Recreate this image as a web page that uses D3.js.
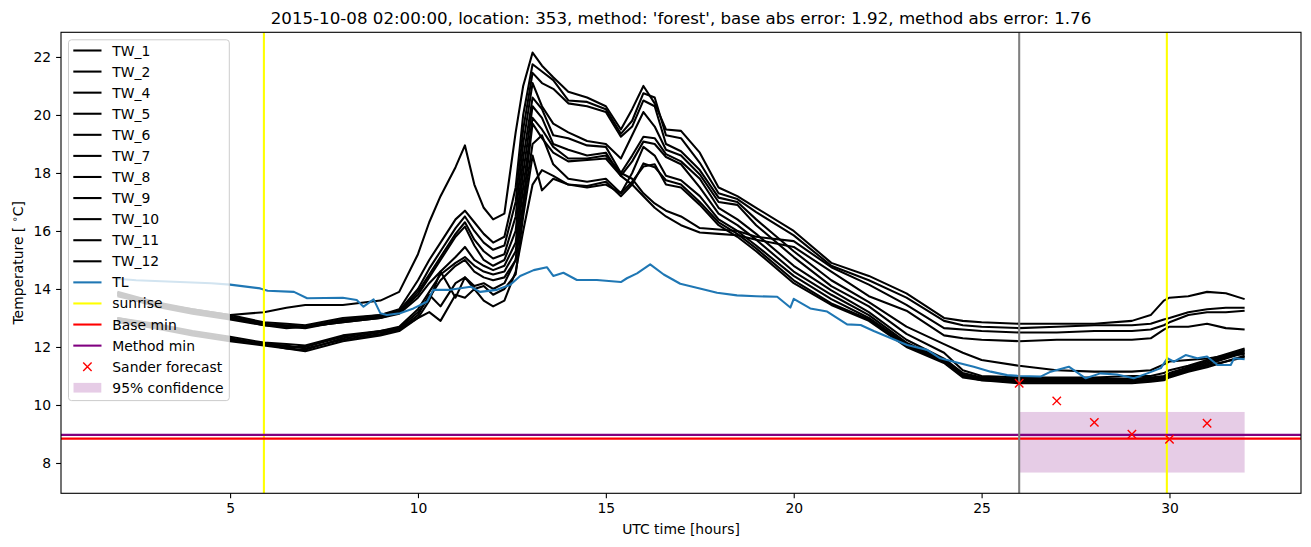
<!DOCTYPE html>
<html><head><meta charset="utf-8">
<script src="https://cdn.jsdelivr.net/npm/d3@7"></script>
<style>body{margin:0;background:#fff}svg{display:block}text{font-family:"DejaVu Sans",sans-serif}</style>
</head><body><div id="chart"></div>
<script>
const times = [2,3,4,5,5.9,6.5,7,8,9,9.5,10,10.3,10.6,11,11.25,11.5,11.75,12,12.3,12.6,12.8,13.05,13.3,13.6,14,14.5,15,15.4,15.7,16.0,16.3,16.6,17,17.5,18,18.5,19,20,21,22,23,24,24.5,25,26,27,28,29,29.5,29.85,30,30.5,31,31.5,32];
const TW_1 = [13.9,13.55,13.3,13.1,13.2,13.35,13.45,13.45,13.6,13.9,15.2,16.3,17.2,18.2,18.95,17.6,16.8,16.4,16.6,19.4,21.0,22.15,21.7,21.3,20.8,20.6,20.3,19.5,20.2,21.0,20.4,19.5,19.45,18.7,17.5,17.2,16.8,16.0,14.9,14.45,13.85,13.0,12.9,12.85,12.8,12.8,12.8,12.9,13.1,13.6,13.7,13.75,13.9,13.85,13.65];
const TW_2 = [13.85,13.5,13.3,13.1,12.85,12.8,12.75,13.0,13.1,13.3,14.3,15.0,15.6,16.4,16.7,16.3,15.9,15.6,15.8,17.5,20.0,21.75,21.5,21.2,20.5,20.45,20.2,19.35,19.8,20.75,20.6,19.3,19.2,18.35,17.3,17.1,16.65,15.85,14.8,14.3,13.7,12.9,12.75,12.7,12.65,12.7,12.75,12.75,12.8,12.95,13.0,13.2,13.3,13.35,13.35];
const TW_4 = [13.0,12.8,12.55,12.35,12.15,12.1,12.05,12.4,12.55,12.7,13.3,13.9,14.5,14.9,15.1,14.8,14.6,14.5,14.6,15.3,17.5,19.9,19.5,18.9,18.5,18.5,18.6,18.0,17.8,17.3,16.95,16.7,16.5,16.1,16.05,16.0,15.8,15.65,14.75,14.15,13.45,12.65,12.6,12.55,12.5,12.5,12.55,12.55,12.6,12.75,12.85,13.1,13.2,13.2,13.25];
const TW_5 = [13.0,12.75,12.5,12.3,12.1,12.0,12.0,12.35,12.55,12.65,13.2,13.7,14.3,14.8,15.0,14.6,14.4,14.3,14.4,15.0,17.0,19.7,19.2,18.7,18.4,18.45,18.5,17.9,17.6,17.2,16.8,16.5,16.2,15.95,15.9,15.85,15.7,15.45,14.6,13.75,13.25,12.4,12.3,12.25,12.2,12.25,12.25,12.25,12.3,12.6,12.7,12.7,12.8,12.65,12.6];
const TW_6 = [13.8,13.5,13.25,13.05,12.8,12.75,12.7,12.95,13.1,13.25,14.0,14.7,15.3,16.1,16.5,16.0,15.6,15.35,15.5,17.0,19.5,21.45,21.1,20.9,20.4,20.3,20.1,19.25,19.6,20.5,20.3,19.0,18.75,18.1,17.15,17.0,16.4,15.3,14.3,13.55,12.7,12.1,11.8,11.55,11.35,11.2,11.15,11.15,11.2,11.4,11.5,11.55,11.6,11.7,11.75];
const TW_7 = [13.85,13.45,13.2,13.0,12.75,12.7,12.65,12.9,13.05,13.2,13.9,14.5,15.1,15.9,16.3,15.7,15.3,15.05,15.2,16.5,19.0,21.1,20.3,19.7,19.4,19.1,19.0,18.5,19.3,20.1,19.6,18.8,18.6,17.95,17.0,16.9,16.2,15.1,14.1,13.4,12.45,11.8,11.2,11.0,10.95,10.95,10.95,11.0,11.0,11.1,11.2,11.35,11.55,11.75,11.95];
const TW_8 = [13.75,13.45,13.2,13.0,12.8,12.7,12.7,12.85,13.0,13.2,13.8,14.4,15.0,15.8,16.15,15.5,15.0,14.8,15.0,16.0,18.5,20.6,20.2,19.3,19.2,18.95,18.9,18.0,18.6,19.25,19.2,18.65,18.4,17.8,16.8,16.4,15.9,14.8,13.95,13.2,12.25,11.6,11.1,10.95,10.9,10.9,10.9,10.9,10.95,11.0,11.1,11.3,11.5,11.7,11.9];
const TW_9 = [13.8,13.4,13.15,12.95,12.75,12.65,12.7,12.85,13.0,13.15,13.7,14.2,14.6,15.1,15.45,15.0,14.8,14.65,14.8,15.6,18.0,20.3,19.9,19.0,18.8,18.6,18.7,17.9,18.4,19.08,19.0,18.55,18.3,17.5,16.6,16.2,15.7,14.6,13.8,13.1,12.15,11.55,11.05,10.9,10.85,10.85,10.85,10.85,10.9,10.95,11.05,11.25,11.45,11.65,11.85];
const TW_10 = [12.95,12.7,12.5,12.25,12.1,11.95,11.9,12.3,12.5,12.6,13.1,13.8,13.4,14.2,14.4,14.1,14.2,14.0,14.2,15.0,16.8,19.0,19.3,18.3,17.8,17.7,17.8,17.3,18.0,18.9,18.6,17.9,17.75,17.2,16.4,16.0,15.5,14.45,13.65,13.0,12.1,11.5,11.0,10.9,10.8,10.8,10.8,10.8,10.85,10.9,11.0,11.2,11.4,11.6,11.8];
const TW_11 = [12.9,12.7,12.45,12.25,12.1,12.05,11.95,12.25,12.45,12.6,13.0,13.6,14.6,13.7,14.4,14.0,14.1,13.8,14.0,14.5,16.5,18.6,17.4,17.8,17.6,17.55,17.7,17.2,17.6,18.33,18.2,17.75,17.6,17.0,16.3,15.9,15.4,14.3,13.5,12.95,12.05,11.5,11.0,10.85,10.8,10.8,10.8,10.8,10.85,10.9,11.0,11.2,11.35,11.5,11.7];
const TW_12 = [12.85,12.65,12.4,12.2,12.05,11.95,11.85,12.2,12.4,12.55,13.0,13.2,12.9,13.8,13.7,14.0,13.6,13.4,13.6,14.6,16.0,17.6,18.1,17.9,17.6,17.5,17.6,17.3,17.7,18.22,18.3,17.6,17.5,16.9,16.2,15.8,15.3,14.2,13.45,12.9,12.0,11.45,10.95,10.85,10.75,10.75,10.75,10.75,10.8,10.85,10.95,11.15,11.3,11.5,11.65];
const twNames = ["TW_1","TW_2","TW_4","TW_5","TW_6","TW_7","TW_8","TW_9","TW_10","TW_11","TW_12"];
const twSeries = [TW_1,TW_2,TW_4,TW_5,TW_6,TW_7,TW_8,TW_9,TW_10,TW_11,TW_12];

const tlTimes = [2,2.5,3.5,4.5,5,5.8,6,6.7,7.05,8.0,8.37,8.55,8.82,9.0,9.17,9.52,9.88,10.24,10.41,10.86,11.4,11.65,12.1,12.45,12.72,13.08,13.43,13.6,13.87,14.23,14.76,15.4,15.56,15.83,16.18,16.54,16.98,17.5,17.96,18.49,19.0,19.56,19.91,20.0,20.44,20.89,21.42,21.78,22.13,23.02,23.55,23.9,24.26,24.79,25.24,25.68,26.0,26.57,26.84,27.32,27.77,28.16,28.6,29.05,29.41,29.77,29.94,30.12,30.43,30.74,31.0,31.28,31.63,31.72,32];
const tlValues = [14.35,14.3,14.25,14.2,14.15,14.02,13.94,13.9,13.68,13.7,13.62,13.39,13.64,13.16,13.1,13.16,13.33,13.56,13.97,13.97,14.08,13.9,13.97,14.14,14.45,14.65,14.75,14.45,14.56,14.31,14.31,14.24,14.37,14.54,14.85,14.5,14.18,14.02,13.87,13.78,13.75,13.73,13.36,13.66,13.33,13.22,12.78,12.76,12.55,12.07,11.9,11.61,11.49,11.32,11.15,11.03,11.0,10.98,11.15,11.32,10.92,11.09,11.05,10.92,11.09,11.27,11.61,11.49,11.72,11.61,11.67,11.38,11.38,11.61,11.58];

const sunrise = [5.9, 29.93];
const forecastStart = 26.0;
const baseMin = 8.84;
const methodMin = 8.97;
const sanderTimes = [26,27,28,29,30,31];
const sanderValues = [10.75,10.14,9.40,8.99,8.82,9.37];
const confTimes = [26, 32];
const confRange = [7.67, 9.76];
const xTicks = [5,10,15,20,25,30];
const yTicks = [8,10,12,14,16,18,20,22];
const title = "2015-10-08 02:00:00, location: 353, method: 'forest', base abs error: 1.92, method abs error: 1.76";

const W = 1311, H = 547;
const m = {left:61, right:1301, top:32.3, bottom:493.3};
const x = d3.scaleLinear().domain([0.5,33.5]).range([m.left,m.right]);
const y = d3.scaleLinear().domain([6.955,22.85]).range([m.bottom,m.top]);
const LW = 2.08;

const svg = d3.select("#chart").append("svg").attr("width",W).attr("height",H);
svg.append("defs").append("clipPath").attr("id","clip").append("rect")
  .attr("x",m.left).attr("y",m.top).attr("width",m.right-m.left).attr("height",m.bottom-m.top);
const g = svg.append("g").attr("clip-path","url(#clip)");

const line = d3.line().x(d=>x(d[0])).y(d=>y(d[1]));

twSeries.forEach(s=>{
  g.append("path").datum(times.map((t,i)=>[t,s[i]])).attr("d",line)
   .attr("fill","none").attr("stroke","#000").attr("stroke-width",LW).attr("stroke-linejoin","round");
});
g.append("path").datum(tlTimes.map((t,i)=>[t,tlValues[i]])).attr("d",line)
  .attr("fill","none").attr("stroke","#1f77b4").attr("stroke-width",LW).attr("stroke-linejoin","round");

g.append("rect").attr("x",x(confTimes[0])).attr("width",x(confTimes[1])-x(confTimes[0]))
  .attr("y",y(confRange[1])).attr("height",y(confRange[0])-y(confRange[1]))
  .attr("fill","purple").attr("fill-opacity",0.2);

sunrise.forEach(s=>g.append("line").attr("x1",x(s)).attr("x2",x(s)).attr("y1",m.top).attr("y2",m.bottom)
  .attr("stroke","yellow").attr("stroke-width",LW));
g.append("line").attr("x1",m.left).attr("x2",m.right).attr("y1",y(baseMin)).attr("y2",y(baseMin))
  .attr("stroke","red").attr("stroke-width",LW);
g.append("line").attr("x1",m.left).attr("x2",m.right).attr("y1",y(methodMin)).attr("y2",y(methodMin))
  .attr("stroke","purple").attr("stroke-width",LW);
g.append("line").attr("x1",x(forecastStart)).attr("x2",x(forecastStart)).attr("y1",m.top).attr("y2",m.bottom)
  .attr("stroke","grey").attr("stroke-width",LW);

const xm = (cx,cy,r)=>`M${cx-r},${cy-r}L${cx+r},${cy+r}M${cx-r},${cy+r}L${cx+r},${cy-r}`;
sanderTimes.forEach((t,i)=>g.append("path").attr("d",xm(x(t),y(sanderValues[i]),4.2))
  .attr("stroke","red").attr("stroke-width",1.4).attr("fill","none"));

// axes
const fs = 13.9;
const xAxis = svg.append("g").attr("transform",`translate(0,${m.bottom})`)
  .call(d3.axisBottom(x).tickValues(xTicks).tickSize(4.9).tickPadding(4.9).tickFormat(d3.format("d")));
const yAxis = svg.append("g").attr("transform",`translate(${m.left},0)`)
  .call(d3.axisLeft(y).tickValues(yTicks).tickSize(4.9).tickPadding(4.9).tickFormat(d3.format("d")));
[xAxis,yAxis].forEach(a=>{
  a.select(".domain").remove();
  a.selectAll("line").attr("stroke","#000").attr("stroke-width",1.1);
  a.selectAll("text").attr("font-size",fs).attr("font-family","DejaVu Sans").attr("fill","#000");
});
svg.append("rect").attr("x",m.left).attr("y",m.top).attr("width",m.right-m.left).attr("height",m.bottom-m.top)
  .attr("fill","none").attr("stroke","#000").attr("stroke-width",1.1);

svg.append("text").attr("x",(m.left+m.right)/2).attr("y",24).attr("text-anchor","middle")
  .attr("font-size",16.67).text(title);
svg.append("text").attr("x",(m.left+m.right)/2).attr("y",534).attr("text-anchor","middle")
  .attr("font-size",fs).text("UTC time [hours]");
const yl = svg.append("text").attr("transform",`translate(23,${(m.top+m.bottom)/2}) rotate(-90)`)
  .attr("text-anchor","middle").attr("font-size",fs);
yl.append("tspan").text("Temperature [ ");
yl.append("tspan").attr("font-size",fs*0.7).attr("dy",-5).text("∘");
yl.append("tspan").attr("dy",5).text("C]");

// legend
const legendItems = twNames.map(n=>({label:n,type:"line",color:"#000"})).concat([
  {label:"TL",type:"line",color:"#1f77b4"},
  {label:"sunrise",type:"line",color:"yellow"},
  {label:"Base min",type:"line",color:"red"},
  {label:"Method min",type:"line",color:"purple"},
  {label:"Sander forecast",type:"x",color:"red"},
  {label:"95% confidence",type:"patch",color:"purple"}
]);
const lg = svg.append("g");
lg.append("rect").attr("x",68.5).attr("y",39.8).attr("width",160.8).attr("height",360.8).attr("rx",3)
  .attr("fill","#fff").attr("fill-opacity",0.8).attr("stroke","#cccccc").attr("stroke-width",1);
const row0 = 50.5, dy = 21.08;
legendItems.forEach((it,i)=>{
  const cy = row0 + i*dy;
  if(it.type==="line"){
    lg.append("line").attr("x1",73.3).attr("x2",101.5).attr("y1",cy).attr("y2",cy)
      .attr("stroke",it.color).attr("stroke-width",LW);
  } else if(it.type==="x"){
    lg.append("path").attr("d",xm(87.4,cy,4.2)).attr("stroke",it.color).attr("stroke-width",1.4);
  } else {
    lg.append("rect").attr("x",73.5).attr("y",cy-4.9).attr("width",27.8).attr("height",9.7)
      .attr("fill",it.color).attr("fill-opacity",0.2);
  }
  lg.append("text").attr("x",112.3).attr("y",cy+5).attr("font-size",fs).text(it.label);
});
</script></body></html>
